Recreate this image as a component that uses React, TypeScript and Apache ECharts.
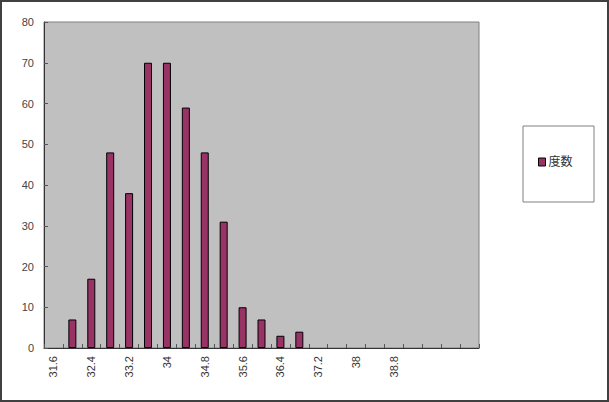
import React, { useEffect, useRef } from "react";
import * as echarts from "echarts";

const categories: string[] = [
  "31.6", "32", "32.4", "32.8", "33.2", "33.6", "34", "34.4", "34.8", "35.2",
  "35.6", "36", "36.4", "36.8", "37.2", "37.6", "38", "38.4", "38.8", "", "", "", "",
];
const counts: number[] = [0, 7, 17, 48, 38, 70, 70, 59, 48, 31, 10, 7, 3, 4, 0, 0, 0, 0, 0, 0, 0, 0, 0];
const seriesName = "度数";
const yMin = 0;
const yMax = 80;
const yStep = 10;

const FONT = "'Liberation Sans', 'Noto Sans CJK JP', sans-serif";

export default function App() {
  const ref = useRef<HTMLDivElement>(null);
  useEffect(() => {
    if (!ref.current) return;
    const chart = echarts.init(ref.current, undefined, { renderer: "svg" });
    const barData = counts.map((v) =>
      v === 0 ? { value: v, itemStyle: { borderWidth: 0 } } : { value: v }
    );
    chart.setOption({
      animation: false,
      backgroundColor: "#ffffff",
      textStyle: { fontFamily: FONT },
      grid: {
        left: 44,
        top: 22,
        width: 435,
        height: 326,
        show: true,
        backgroundColor: "#C0C0C0",
        borderColor: "#808080",
        borderWidth: 1,
      },
      legend: {
        show: true,
        left: 538,
        top: 156,
        data: [seriesName],
        icon: "rect",
        itemWidth: 7,
        itemHeight: 8,
        itemGap: 4,
        padding: 0,
        textStyle: { fontSize: 12, color: "#333", fontFamily: FONT, padding: [0, 0, 0, -2] },
        itemStyle: { borderColor: "#000", borderWidth: 1 },
      },
      xAxis: {
        type: "category",
        data: categories,
        boundaryGap: true,
        axisLine: { show: true, lineStyle: { color: "#333", width: 1 } },
        axisTick: { show: true, inside: true, length: 4, interval: 0, lineStyle: { color: "#555" } },
        axisLabel: {
          interval: 1,
          rotate: 90,
          margin: 8,
          fontSize: 11,
          color: "#333",
          fontFamily: FONT,
        },
        splitLine: { show: false },
      },
      yAxis: {
        type: "value",
        min: yMin,
        max: yMax,
        interval: yStep,
        axisLine: { show: true, lineStyle: { color: "#333", width: 1 } },
        axisTick: { show: true, inside: true, length: 4, lineStyle: { color: "#555" } },
        axisLabel: { margin: 10, fontSize: 11, color: "#444", fontFamily: FONT },
        splitLine: { show: false },
      },
      series: [
        {
          name: seriesName,
          type: "bar",
          data: barData,
          barWidth: 8,
          itemStyle: { color: "#993366", borderColor: "#000", borderWidth: 1 },
        },
      ],
      graphic: [
        {
          type: "rect",
          shape: { x: 523, y: 126, width: 71, height: 76 },
          style: { fill: "#fff", stroke: "#808080", lineWidth: 1 },
          z: -1,
        },
        {
          type: "rect",
          shape: { x: 1, y: 1, width: 607, height: 400 },
          style: { fill: "none", stroke: "#404040", lineWidth: 2 },
          z: 10,
        },
      ],
    });
    return () => chart.dispose();
  }, []);
  return (
    <div
      ref={ref}
      style={{ position: "fixed", left: 0, top: 0, width: 609, height: 402 }}
    />
  );
}
